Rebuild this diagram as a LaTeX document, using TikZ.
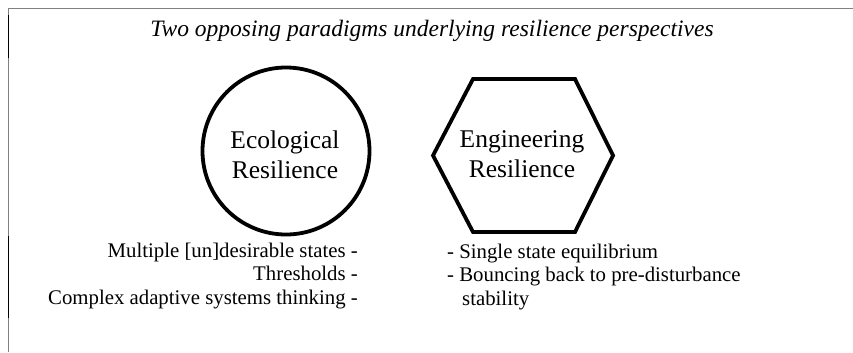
\documentclass[tikz,border=0pt]{standalone}
\usepackage{fontspec}
\setmainfont{Liberation Serif}
\begin{document}
\begin{tikzpicture}[x=1bp,y=-1bp,
  shapeline/.style={line width=3.8bp,draw=black},
  shapetext/.style={align=center,font=\fontsize{25.5bp}{30bp}\selectfont,inner sep=0pt},
  listtext/.style={font=\fontsize{20.8bp}{23.3bp}\selectfont,inner sep=0pt},
  framegray/.style={draw=black!50,line width=1bp},
  frameblack/.style={draw=black,line width=1bp}]
\useasboundingbox (0,0) rectangle (853,352);
% frame
\coordinate (fTR) at (853,8);
\coordinate (fTL) at (8,8);
\coordinate (fBL) at (8,352);
\draw[framegray] (fTR) -- (fTL) -- (fBL);
\coordinate (b1a) at (8,15);
\coordinate (b1b) at (8,58);
\coordinate (b2a) at (8,236);
\coordinate (b2b) at (8,318);
\draw[frameblack] (b1a) -- (b1b);
\draw[frameblack] (b2a) -- (b2b);
% title
\node[anchor=base,inner sep=0pt,font=\fontsize{23.5bp}{28bp}\selectfont\itshape] (title) at (432,36)
  {Two opposing paradigms underlying resilience perspectives};
% ecological circle
\node[circle,shapeline,minimum size=167bp,inner sep=0pt] (eco) at (286,151) {};
\node[shapetext] (ecot) at (285,155) {Ecological\\Resilience};
% engineering hexagon
\coordinate (hexc) at (523,155.5);
\coordinate (h1) at (433,155.5);
\coordinate (h2) at (473,79);
\coordinate (h3) at (575,79);
\coordinate (h4) at (613,155.5);
\coordinate (h5) at (575,232);
\coordinate (h6) at (473,232);
\draw[shapeline,line join=miter] (h1) -- (h2) -- (h3) -- (h4) -- (h5) -- (h6) -- cycle;
\node[shapetext] (engt) at (522,154) {Engineering\\Resilience};
% lists
\node[listtext,anchor=north east,align=right] (ecol) at (358,243)
  {Multiple [un]desirable states -\\Thresholds -\\Complex adaptive systems thinking -};
\node[listtext,anchor=north west,align=left] (engl) at (447,244)
  {- Single state equilibrium\\- Bouncing back to pre-disturbance\\\hspace*{15bp}stability};
\end{tikzpicture}
\end{document}
